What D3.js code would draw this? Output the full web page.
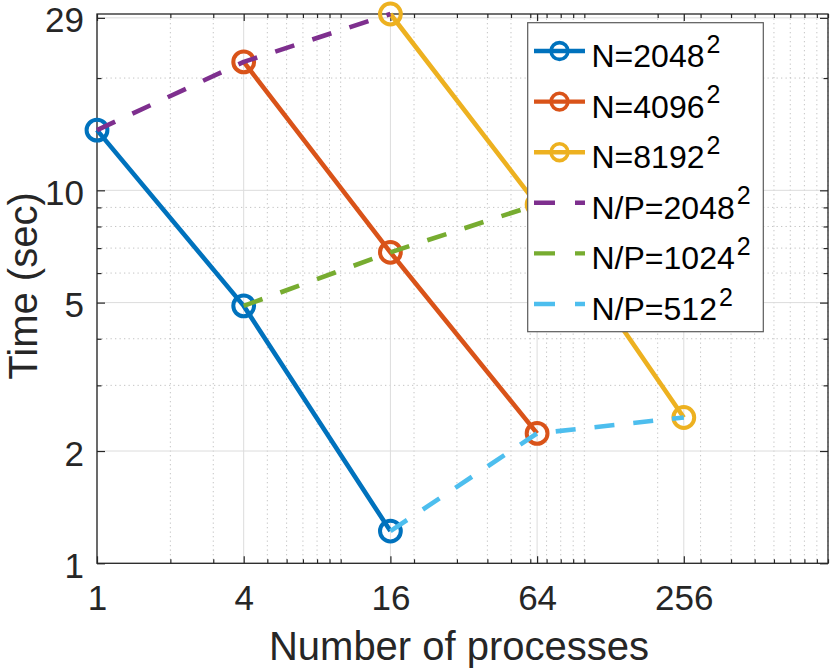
<!DOCTYPE html>
<html>
<head>
<meta charset="utf-8">
<script src="https://cdn.jsdelivr.net/npm/d3@7"></script>
<style>
  html, body { margin: 0; padding: 0; background: #fff; }
  svg { display: block; font-family: "Liberation Sans", Arial, Helvetica, sans-serif; }
</style>
</head>
<body>
<svg id="chart" width="830" height="669"></svg>
<script>
// ---- data ----
const procA = [1, 4, 16];
const procB = [4, 16, 64];
const procC = [16, 64, 256];
const timeN2048 = [14.5, 4.90, 1.22];
const timeN4096 = [22.1, 6.82, 2.23];
const timeN8192 = [29.7, 9.16, 2.46];
const timeNP2048 = [14.5, 22.1, 29.7];
const timeNP1024 = [4.90, 6.82, 9.16];
const timeNP512 = [1.22, 2.23, 2.46];
const xTicks = [1, 4, 16, 64, 256];
const yTicks = [1, 2, 5, 10, 29];
const xDomain = [1, 1000];
const yDomain = [1, 29.7];

const series = [
  {base: "N=2048", sup: "2", x: procA, y: timeN2048, color: "#0072BD", dashed: false},
  {base: "N=4096", sup: "2", x: procB, y: timeN4096, color: "#D95319", dashed: false},
  {base: "N=8192", sup: "2", x: procC, y: timeN8192, color: "#EDB120", dashed: false},
  {base: "N/P=2048", sup: "2", x: procA, y: timeNP2048, color: "#7E2F8E", dashed: true},
  {base: "N/P=1024", sup: "2", x: procB, y: timeNP1024, color: "#77AC30", dashed: true},
  {base: "N/P=512", sup: "2", x: procC, y: timeNP512, color: "#4DBEEE", dashed: true}
];

// ---- layout ----
const L = 97, R = 828, T = 14, B = 563.3;
const svg = d3.select("#chart");
const x = d3.scaleLog().domain(xDomain).range([L, R]);
const y = d3.scaleLog().domain(yDomain).range([B, T]);

function minorLog(domain, majors) {
  const out = [];
  for (let e = 0; e <= 3; e++) {
    for (let m = 1; m <= 9; m++) {
      const v = m * Math.pow(10, e);
      if (v < domain[0] || v > domain[1]) continue;
      if (majors.some(t => Math.abs(t - v) < 1e-9)) continue;
      out.push(v);
    }
  }
  return out;
}
const xMinor = minorLog(xDomain, xTicks);
const yMinor = minorLog(yDomain, yTicks);

const grid = svg.append("g");
// minor grid (dotted)
grid.selectAll(".xmg").data(xMinor).join("line")
  .attr("x1", d => x(d)).attr("x2", d => x(d)).attr("y1", T).attr("y2", B)
  .attr("stroke", "#c4c4c4").attr("stroke-width", 1).attr("stroke-dasharray", "1.3,3.2");
grid.selectAll(".ymg").data(yMinor).join("line")
  .attr("y1", d => y(d)).attr("y2", d => y(d)).attr("x1", L).attr("x2", R)
  .attr("stroke", "#c4c4c4").attr("stroke-width", 1).attr("stroke-dasharray", "1.3,3.2");
// major grid
grid.selectAll(".xg").data(xTicks).join("line")
  .attr("x1", d => x(d)).attr("x2", d => x(d)).attr("y1", T).attr("y2", B)
  .attr("stroke", "#dcdcdc").attr("stroke-width", 1);
grid.selectAll(".yg").data(yTicks).join("line")
  .attr("y1", d => y(d)).attr("y2", d => y(d)).attr("x1", L).attr("x2", R)
  .attr("stroke", "#dcdcdc").attr("stroke-width", 1);

// ---- axes with d3 axis generators (inward ticks) ----
const axCol = "#262626";
function styleAxis(g) {
  g.select(".domain").remove();
  g.selectAll(".tick line").attr("stroke", axCol).attr("stroke-width", 1.2);
}
// bottom major
svg.append("g").attr("transform", `translate(0,${B})`)
  .call(d3.axisBottom(x).tickValues(xTicks).tickSize(-7).tickFormat(d => d).tickPadding(0))
  .call(styleAxis)
  .call(g => g.selectAll(".tick text").attr("y", 610 - B).attr("dy", 0)
    .attr("font-size", 35).attr("fill", axCol).attr("font-family", "Liberation Sans, Arial, sans-serif"));
// bottom minor
svg.append("g").attr("transform", `translate(0,${B})`)
  .call(d3.axisBottom(x).tickValues(xMinor).tickSize(-4).tickFormat(""))
  .call(styleAxis);
// top major/minor
svg.append("g").attr("transform", `translate(0,${T})`)
  .call(d3.axisTop(x).tickValues(xTicks).tickSize(-7).tickFormat(""))
  .call(styleAxis);
svg.append("g").attr("transform", `translate(0,${T})`)
  .call(d3.axisTop(x).tickValues(xMinor).tickSize(-4).tickFormat(""))
  .call(styleAxis);
// left major
svg.append("g").attr("transform", `translate(${L},0)`)
  .call(d3.axisLeft(y).tickValues(yTicks).tickSize(-8).tickFormat(d => d))
  .call(styleAxis)
  .call(g => g.selectAll(".tick text").attr("x", 84 - L).attr("dy", "0.4em")
    .attr("font-size", 35).attr("fill", axCol).attr("font-family", "Liberation Sans, Arial, sans-serif"));
svg.append("g").attr("transform", `translate(${L},0)`)
  .call(d3.axisLeft(y).tickValues(yMinor).tickSize(-4.5).tickFormat(""))
  .call(styleAxis);
// right
svg.append("g").attr("transform", `translate(${R},0)`)
  .call(d3.axisRight(y).tickValues(yTicks).tickSize(-8).tickFormat(""))
  .call(styleAxis);
svg.append("g").attr("transform", `translate(${R},0)`)
  .call(d3.axisRight(y).tickValues(yMinor).tickSize(-4.5).tickFormat(""))
  .call(styleAxis);
// box
svg.append("rect").attr("x", L).attr("y", T).attr("width", R - L).attr("height", B - T)
  .attr("fill", "none").attr("stroke", axCol).attr("stroke-width", 1.3);

// ---- data lines ----
const line = d3.line().x(d => x(d[0])).y(d => y(d[1]));
const plotG = svg.append("g");
series.forEach(s => {
  const pts = s.x.map((v, k) => [v, s.y[k]]);
  const g = plotG.append("g");
  g.append("path").datum(pts).attr("d", line)
    .attr("fill", "none").attr("stroke", s.color).attr("stroke-width", 4.6)
    .attr("stroke-dasharray", s.dashed ? "20,19" : null)
    .attr("stroke-linejoin", "round");
  if (!s.dashed) {
    g.selectAll("circle").data(pts).join("circle")
      .attr("cx", d => x(d[0])).attr("cy", d => y(d[1])).attr("r", 10.4)
      .attr("fill", "none").attr("stroke", s.color).attr("stroke-width", 4);
  }
});

// ---- labels ----
svg.append("text").attr("x", 459).attr("y", 660).attr("text-anchor", "middle")
  .attr("font-size", 40).attr("fill", axCol).text("Number of processes");
svg.append("text").attr("transform", "translate(37,286) rotate(-90)").attr("text-anchor", "middle")
  .attr("font-size", 40).attr("fill", axCol).text("Time (sec)");

// ---- legend ----
const lg = svg.append("g");
const lx0 = 527.7, ly0 = 22.7, lw = 235.6, lh = 309;
lg.append("rect").attr("x", lx0).attr("y", ly0).attr("width", lw).attr("height", lh)
  .attr("fill", "#fff").attr("stroke", "#5a5a5a").attr("stroke-width", 1.2);
const rowY0 = 51, rowStep = 50.6;
series.forEach((s, i) => {
  const cy = rowY0 + i * rowStep;
  lg.append("line").attr("x1", 534).attr("x2", 585).attr("y1", cy).attr("y2", cy)
    .attr("stroke", s.color).attr("stroke-width", 4.4)
    .attr("stroke-dasharray", s.dashed ? "21,20" : null);
  if (!s.dashed) {
    lg.append("circle").attr("cx", 559.5).attr("cy", cy).attr("r", 8.4)
      .attr("fill", "none").attr("stroke", s.color).attr("stroke-width", 3.6);
  }
  const t = lg.append("text").attr("x", 591.5).attr("y", cy + 16)
    .attr("font-size", 32).attr("fill", "#000");
  t.append("tspan").text(s.base);
  t.append("tspan").attr("dx", 2).attr("dy", -14.5).attr("font-size", 25).text(s.sup);
});
</script>
</body>
</html>
